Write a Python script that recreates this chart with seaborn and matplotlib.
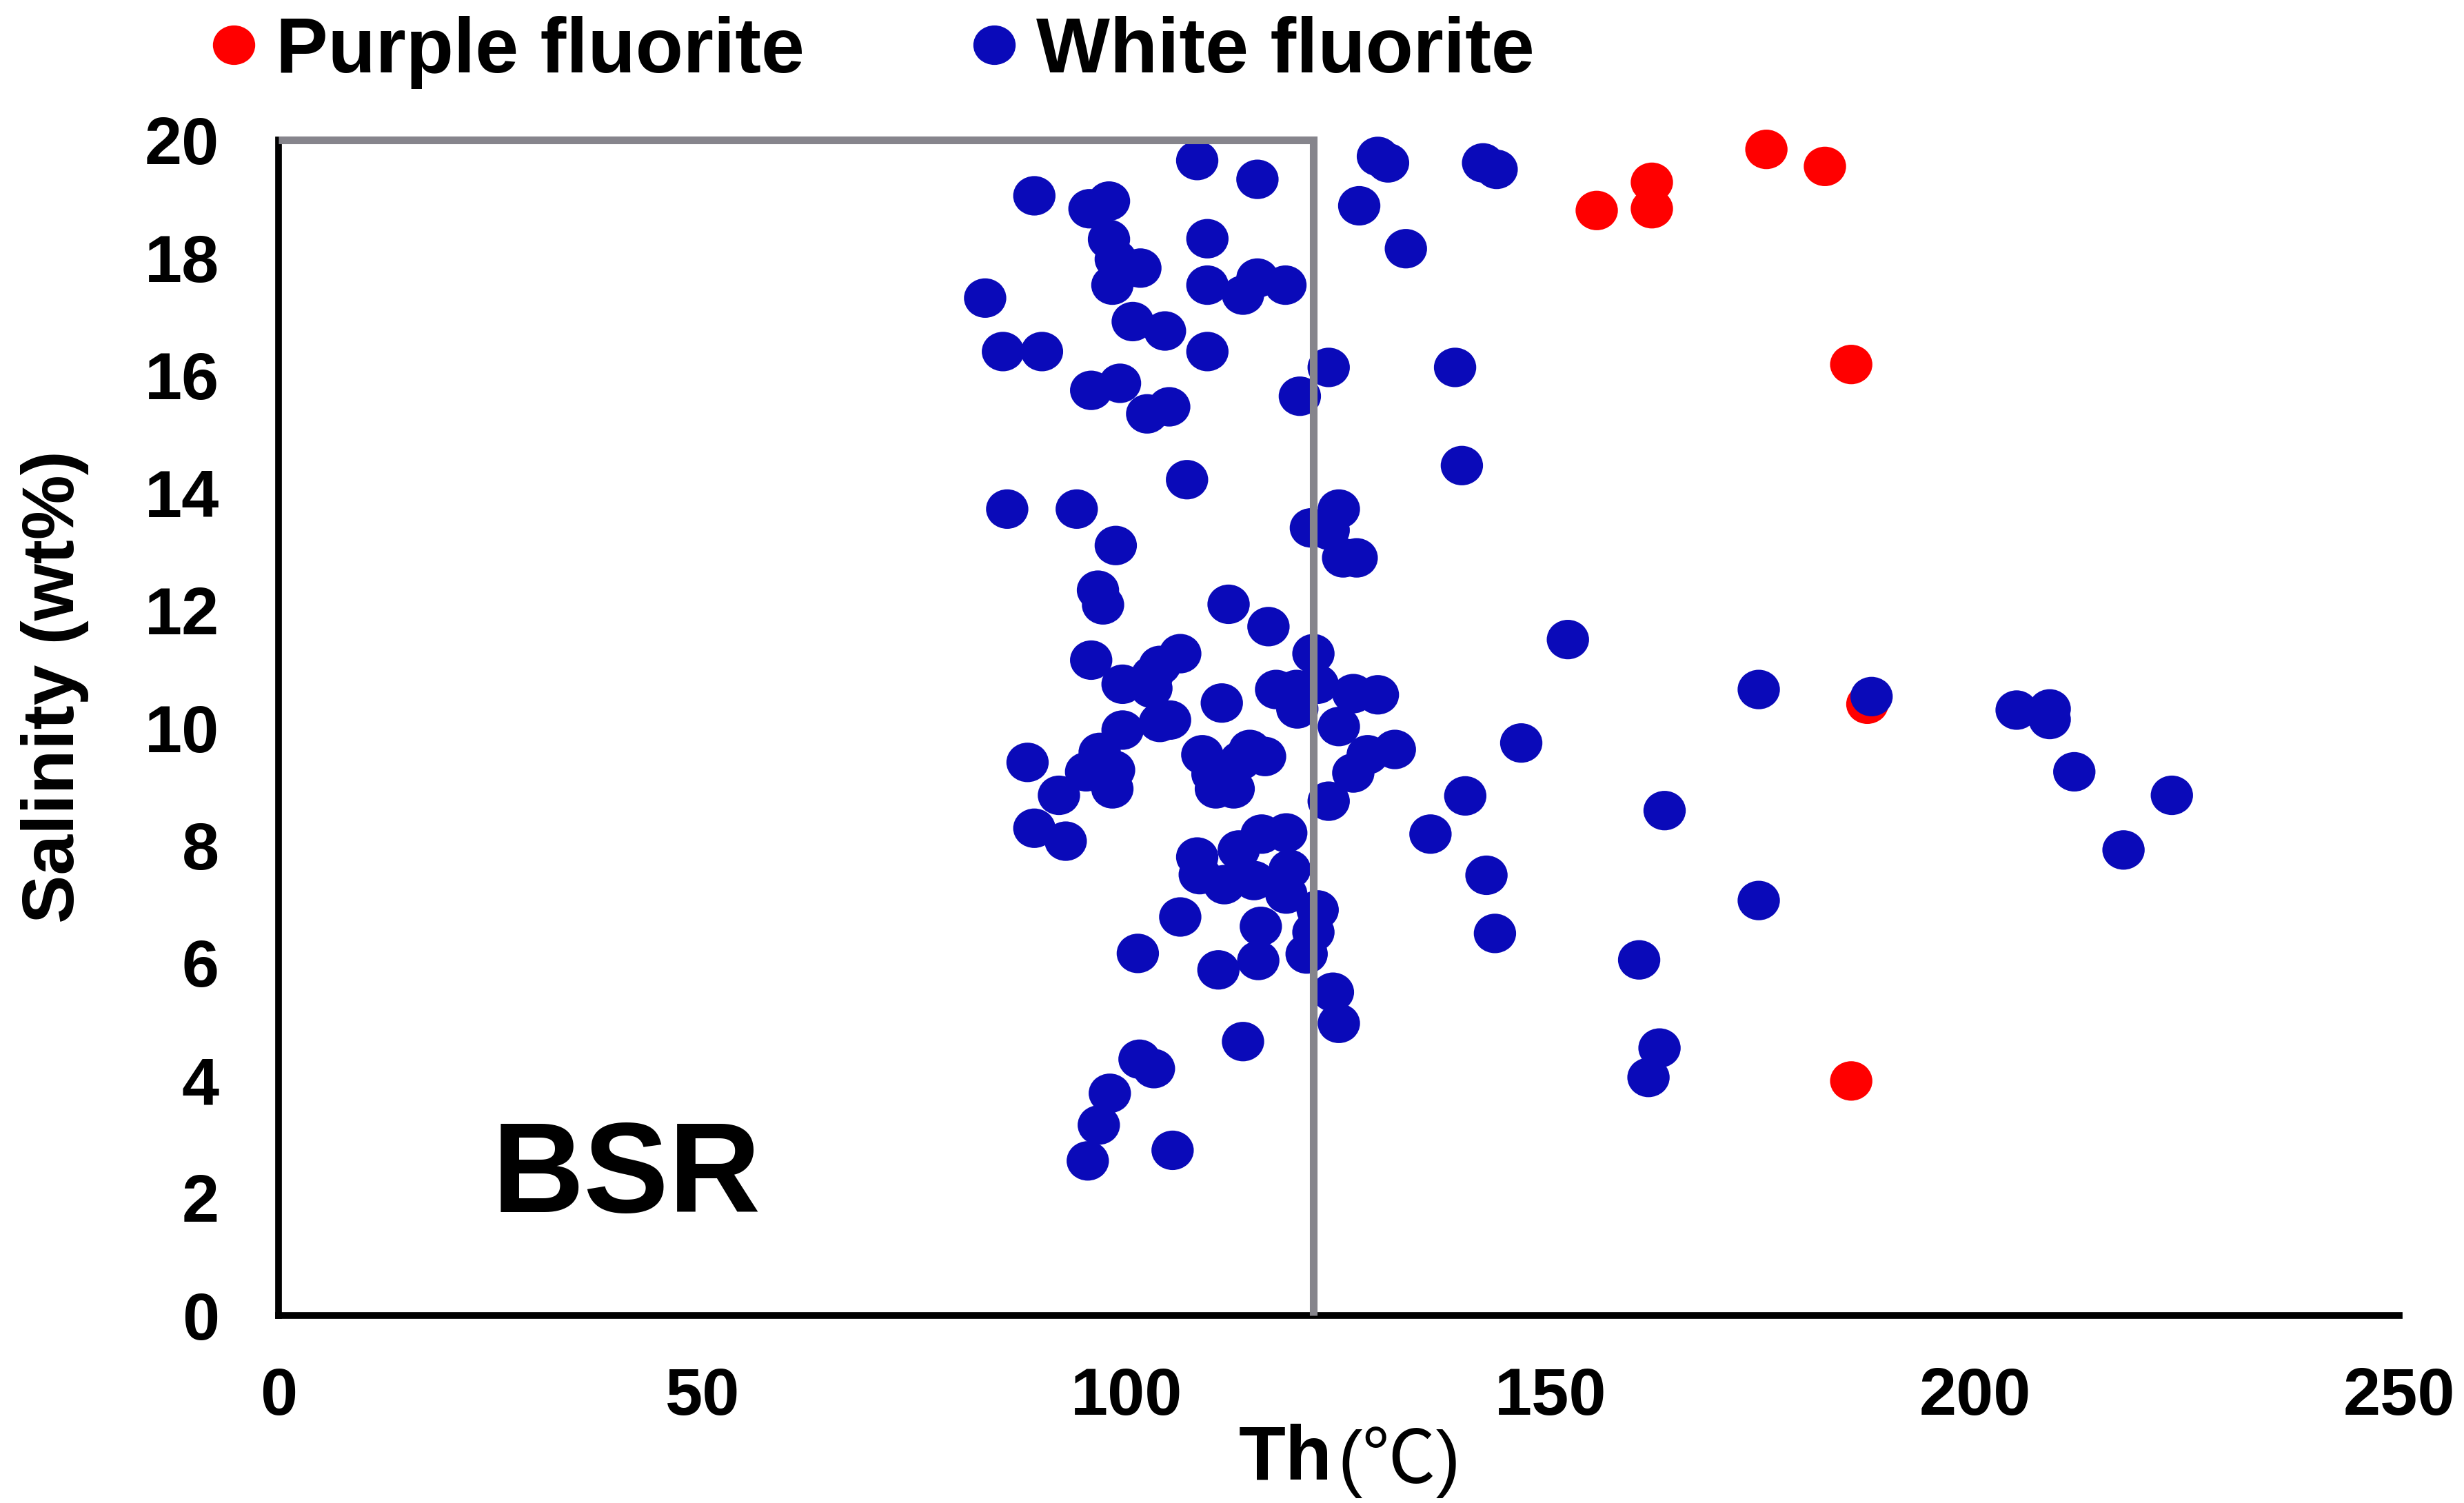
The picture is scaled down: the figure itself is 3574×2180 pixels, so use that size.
import pandas as pd
import matplotlib
matplotlib.use("Agg")
import matplotlib.pyplot as plt
import seaborn as sns
from matplotlib.markers import MarkerStyle
from matplotlib.transforms import Affine2D

# Th (deg C) and salinity (wt%)
purple_th = [155.4, 161.9, 161.9, 175.4, 182.3, 185.4, 187.3, 185.4]
purple_sal = [18.8, 19.28, 18.83, 19.84, 19.55, 16.18, 10.4, 3.99]

white_th = [108.3, 115.4, 89.1, 95.6, 97.9, 97.9, 98.7, 101.6, 98.3, 109.5, 132.9, 127.4,
            129.6, 130.8, 142, 143.6, 109.5, 115.4, 113.7, 118.7, 83.3, 100.7, 104.5, 109.5,
            85.4, 90, 123.8, 138.7, 120.4, 95.8, 99.2, 102.4, 105, 139.5, 107.1, 85.9,
            94.1, 125, 121.7, 123.8, 98.7, 125.5, 127.1, 96.6, 97.2, 112, 116.7, 152,
            95.8, 106.3, 103.9, 99.5, 103, 102.9, 122, 117.6, 120.1, 120, 122.5, 126.7,
            129.6, 125, 111.2, 99.5, 105.1, 103.9, 88.3, 96.8, 95.2, 92, 98.5, 98.3,
            108.9, 114.5, 116.3, 113.4, 110.1, 110.5, 112.6, 131.6, 128.4, 126.7, 123.8, 139.9,
            135.8, 89.1, 92.8, 115.9, 118.8, 113.2, 108.3, 108.6, 111.5, 115, 118.8, 119.2,
            122.5, 122, 121.2, 106.3, 115.8, 115.5, 110.8, 101.3, 124.3, 125, 113.7, 101.5,
            103.2, 98, 96.7, 95.4, 105.4, 161.5, 162.8, 160.4, 143.4, 142.4, 174.5, 163.4,
            146.5, 174.5, 187.8, 204.9, 208.8, 208.8, 211.7, 223.2, 217.5]
white_sal = [19.65, 19.33, 19.05, 18.83, 18.96, 18.31, 17.97, 17.82, 17.53, 18.32, 18.15, 18.88,
             19.72, 19.61, 19.61, 19.5, 17.53, 17.65, 17.36, 17.53, 17.31, 16.91, 16.75, 16.4,
             16.4, 16.4, 16.13, 16.13, 15.64, 15.74, 15.86, 15.34, 15.46, 14.46, 14.22, 13.72,
             13.72, 13.72, 13.4, 13.36, 13.1, 12.89, 12.89, 12.34, 12.09, 12.1, 11.72, 11.5,
             11.15, 11.26, 11.06, 10.74, 10.89, 10.67, 11.26, 10.65, 10.32, 10.65, 10.74, 10.58,
             10.56, 10.02, 10.42, 9.96, 10.13, 10.09, 9.41, 9.58, 9.25, 8.85, 9.28, 8.96,
             9.54, 9.63, 9.51, 9.44, 9.21, 8.96, 8.96, 9.63, 9.54, 9.23, 8.75, 8.84,
             8.19, 8.29, 8.07, 8.19, 8.21, 7.92, 7.8, 7.5, 7.33, 7.4, 7.17, 7.59,
             6.9, 6.52, 6.15, 6.78, 6.62, 6.04, 5.88, 6.16, 5.5, 4.97, 4.66, 4.36,
             4.2, 3.78, 3.24, 2.63, 2.81, 4.05, 4.55, 6.05, 6.5, 7.49, 7.06, 8.59,
             9.74, 10.65, 10.53, 10.3, 10.32, 10.14, 9.25, 8.85, 7.92]

x_ticks = [0, 50, 100, 150, 200, 250]
y_ticks = [0, 2, 4, 6, 8, 10, 12, 14, 16, 18, 20]

# BSR limit box
box_th = [0, 122, 122]
box_sal = [20, 20, 0]

purple_df = pd.DataFrame({"Th": purple_th, "Salinity": purple_sal, "type": "Purple fluorite"})
white_df = pd.DataFrame({"Th": white_th, "Salinity": white_sal, "type": "White fluorite"})
df = pd.concat([purple_df, white_df], ignore_index=True)

sns.set_style("white")
plt.rcParams["font.family"] = ["Liberation Sans", "Noto Sans CJK SC", "DejaVu Sans"]
plt.rcParams["text.color"] = "black"
plt.rcParams["axes.labelcolor"] = "black"
plt.rcParams["xtick.color"] = "black"
plt.rcParams["ytick.color"] = "black"

fig = plt.figure(figsize=(35.74, 21.8), dpi=100)
ax = fig.add_axes([404 / 3574, 1 - 1908 / 2180, (3480 - 404) / 3574, (1908 - 203) / 2180])

# image was stretched a little, dots are slightly wider than tall
dot = MarkerStyle("o", transform=Affine2D().scale(1.04, 0.97))
sns.scatterplot(data=df, x="Th", y="Salinity", hue="type",
                hue_order=["Purple fluorite", "White fluorite"],
                palette={"Purple fluorite": "#ff0000", "White fluorite": "#0a0ab9"},
                marker=dot, s=1806, linewidth=0, clip_on=False, ax=ax)

ax.plot(box_th, box_sal, color="#86858c", linewidth=8, clip_on=False, zorder=5,
        solid_joinstyle="miter", solid_capstyle="butt")

ax.set_xlim(0, 250)
ax.set_ylim(0, 20)
ax.set_xticks(x_ticks)
ax.set_yticks(y_ticks)
ax.tick_params(axis="x", length=0, pad=53, labelsize=70)
ax.tick_params(axis="y", length=0, pad=62, labelsize=70)
for lab in ax.get_xticklabels() + ax.get_yticklabels():
    lab.set_fontweight("bold")

# bold Th, thin bracket part as in the original
th_label = ax.set_xlabel("Th", fontsize=80, fontweight="bold", x=0.475, labelpad=-5)
ax.annotate("(℃)", xy=(1, 0), xycoords=th_label, xytext=(5, 13), textcoords="offset points",
            fontsize=77, fontweight="normal", ha="left", va="baseline", color="black",
            annotation_clip=False)
ax.set_ylabel("Salinity (wt%)", fontsize=76, fontweight="bold", labelpad=58, y=0.535)

sns.despine(ax=ax)
for side in ["left", "bottom"]:
    ax.spines[side].set_linewidth(7)
    ax.spines[side].set_color("black")

ax.text(25.2, 2.32, "BSR", fontsize=133, fontweight="bold", va="center", ha="left", color="black")

sns.move_legend(ax, "upper left", bbox_to_anchor=(282 / 3574, 1 - 23 / 2180),
                bbox_transform=fig.transFigure, ncol=2, title=None, frameon=False,
                prop={"weight": "bold", "size": 81.5}, handlelength=1, handletextpad=0.04,
                columnspacing=1.93, borderaxespad=0, borderpad=0)

fig.savefig("out.png", dpi=100)
